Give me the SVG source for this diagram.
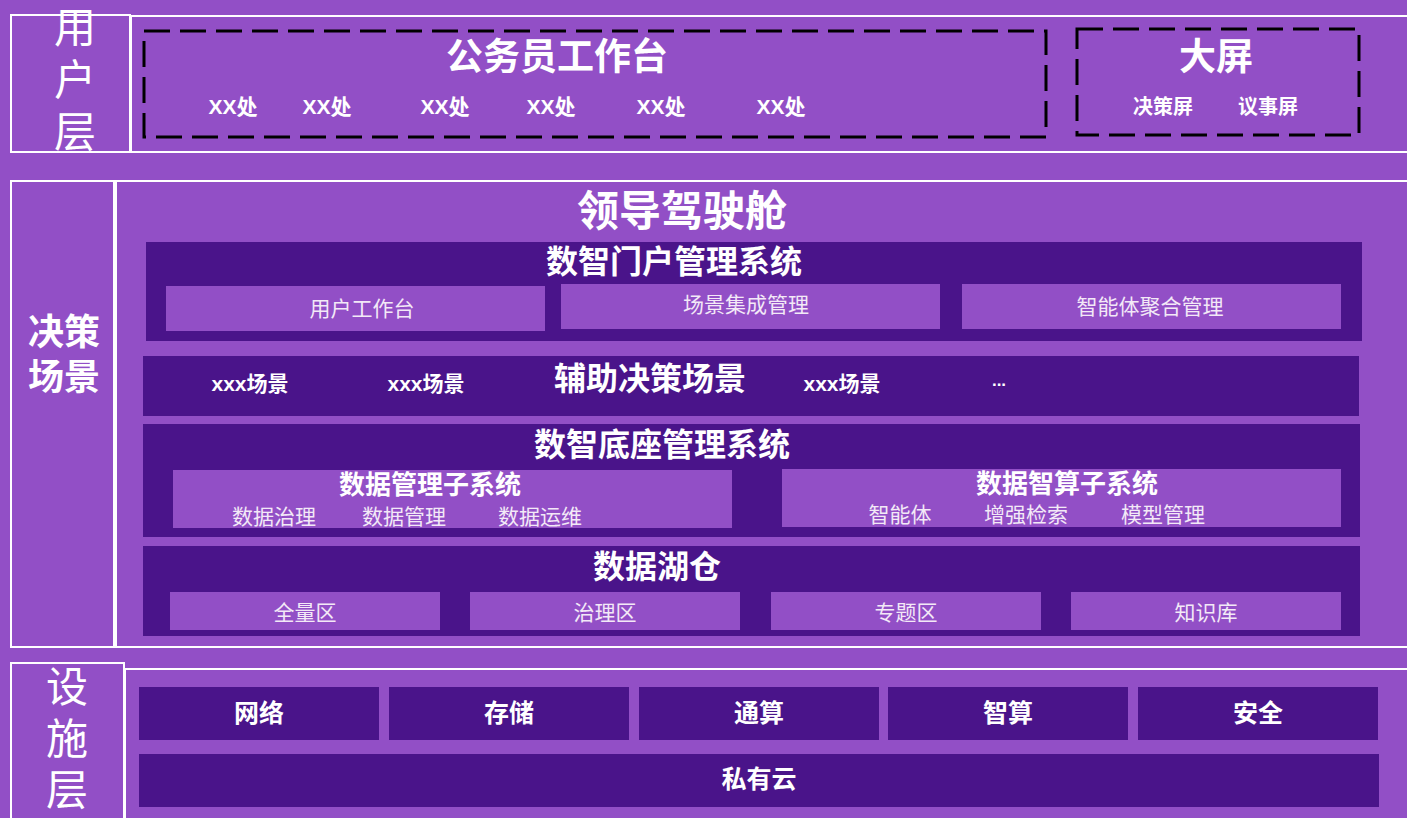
<svg xmlns="http://www.w3.org/2000/svg" width="1407" height="818" viewBox="0 0 1407 818">
<style>
text{font-family:"Liberation Sans","Noto Sans CJK SC",sans-serif;fill:#fff;text-anchor:middle}
.frame{fill:none;stroke:#fff;stroke-width:2}
.dash{fill:none;stroke:#000;stroke-width:3;stroke-dasharray:26 10}
.dark{fill:#4A148A}
.light{fill:#924FC6}
.b{font-weight:bold}
.sub{fill:#f3e9f7;font-size:21px}
.side{font-size:42px}
</style>
<rect x="0" y="0" width="1407" height="818" fill="#924FC6"/>

<g id="user-layer">
<rect class="frame" x="11" y="15" width="119" height="137"/>
<rect class="frame" x="131" y="16" width="1290" height="136"/>
<text class="side" x="75" y="43">用</text>
<text class="side" x="75" y="95">户</text>
<text class="side" x="75" y="147">层</text>
</g>

<g id="workbench">
<rect class="dash" x="144" y="31" width="902" height="106"/>
<text class="b" x="557" y="70" font-size="37">公务员工作台</text>
<text class="b" x="233" y="114" font-size="21">XX处</text>
<text class="b" x="327" y="114" font-size="21">XX处</text>
<text class="b" x="445" y="114" font-size="21">XX处</text>
<text class="b" x="551" y="114" font-size="21">XX处</text>
<text class="b" x="661" y="114" font-size="21">XX处</text>
<text class="b" x="781" y="114" font-size="21">XX处</text>
</g>

<g id="bigscreen">
<rect class="dash" x="1077" y="29" width="282" height="106"/>
<text class="b" x="1216" y="70" font-size="37">大屏</text>
<text class="b" x="1163" y="114" font-size="20">决策屏</text>
<text class="b" x="1268" y="114" font-size="20">议事屏</text>
</g>

<g id="decision-layer">
<rect class="frame" x="11" y="181" width="103" height="466"/>
<rect class="frame" x="116" y="181" width="1300" height="466"/>
<text class="b" x="64" y="345" font-size="36">决策</text>
<text class="b" x="64" y="390" font-size="36">场景</text>
<text class="b" x="682" y="226" font-size="42">领导驾驶舱</text>
</g>

<g id="portal">
<rect class="dark" x="146" y="242" width="1216" height="99"/>
<text class="b" x="674" y="273" font-size="32">数智门户管理系统</text>
<rect class="light" x="166" y="286" width="379" height="45"/>
<text class="sub" x="362" y="316">用户工作台</text>
<rect class="light" x="561" y="284" width="379" height="45"/>
<text class="sub" x="746" y="312">场景集成管理</text>
<rect class="light" x="962" y="284" width="379" height="45"/>
<text class="sub" x="1150" y="314">智能体聚合管理</text>
</g>

<g id="scenes">
<rect class="dark" x="143" y="356" width="1216" height="60"/>
<text class="b" x="650" y="390" font-size="32">辅助决策场景</text>
<text class="b" x="250" y="391" font-size="21">xxx场景</text>
<text class="b" x="426" y="391" font-size="21">xxx场景</text>
<text class="b" x="842" y="391" font-size="21">xxx场景</text>
<text class="b" x="999" y="386" font-size="17">...</text>
</g>

<g id="base">
<rect class="dark" x="143" y="424" width="1217" height="113"/>
<text class="b" x="662" y="456" font-size="32">数智底座管理系统</text>
<rect class="light" x="173" y="470" width="559" height="58"/>
<text class="b" x="430" y="494" font-size="26">数据管理子系统</text>
<text class="sub" x="274" y="524">数据治理</text>
<text class="sub" x="404" y="524">数据管理</text>
<text class="sub" x="540" y="524">数据运维</text>
<rect class="light" x="782" y="469" width="559" height="58"/>
<text class="b" x="1067" y="493" font-size="26">数据智算子系统</text>
<text class="sub" x="900" y="522">智能体</text>
<text class="sub" x="1026" y="522">增强检索</text>
<text class="sub" x="1163" y="522">模型管理</text>
</g>

<g id="lake">
<rect class="dark" x="143" y="546" width="1217" height="90"/>
<text class="b" x="657" y="578" font-size="32">数据湖仓</text>
<rect class="light" x="170" y="592" width="270" height="38"/>
<text class="sub" x="305" y="620">全量区</text>
<rect class="light" x="470" y="592" width="270" height="38"/>
<text class="sub" x="605" y="620">治理区</text>
<rect class="light" x="771" y="592" width="270" height="38"/>
<text class="sub" x="906" y="620">专题区</text>
<rect class="light" x="1071" y="592" width="270" height="38"/>
<text class="sub" x="1206" y="620">知识库</text>
</g>

<g id="infra-layer">
<rect class="frame" x="11" y="663" width="113" height="160"/>
<rect class="frame" x="125" y="669" width="1300" height="160"/>
<text class="side" x="67" y="702">设</text>
<text class="side" x="67" y="754">施</text>
<text class="side" x="67" y="805">层</text>
</g>

<g id="infra">
<rect class="dark" x="139" y="687" width="240" height="53"/>
<text class="b" x="259" y="722" font-size="25">网络</text>
<rect class="dark" x="389" y="687" width="240" height="53"/>
<text class="b" x="509" y="722" font-size="25">存储</text>
<rect class="dark" x="639" y="687" width="240" height="53"/>
<text class="b" x="759" y="722" font-size="25">通算</text>
<rect class="dark" x="888" y="687" width="240" height="53"/>
<text class="b" x="1008" y="722" font-size="25">智算</text>
<rect class="dark" x="1138" y="687" width="240" height="53"/>
<text class="b" x="1258" y="722" font-size="25">安全</text>
<rect class="dark" x="139" y="754" width="1240" height="53"/>
<text class="b" x="759" y="788" font-size="25">私有云</text>
</g>

<g id="connectors"></g>
</svg>
